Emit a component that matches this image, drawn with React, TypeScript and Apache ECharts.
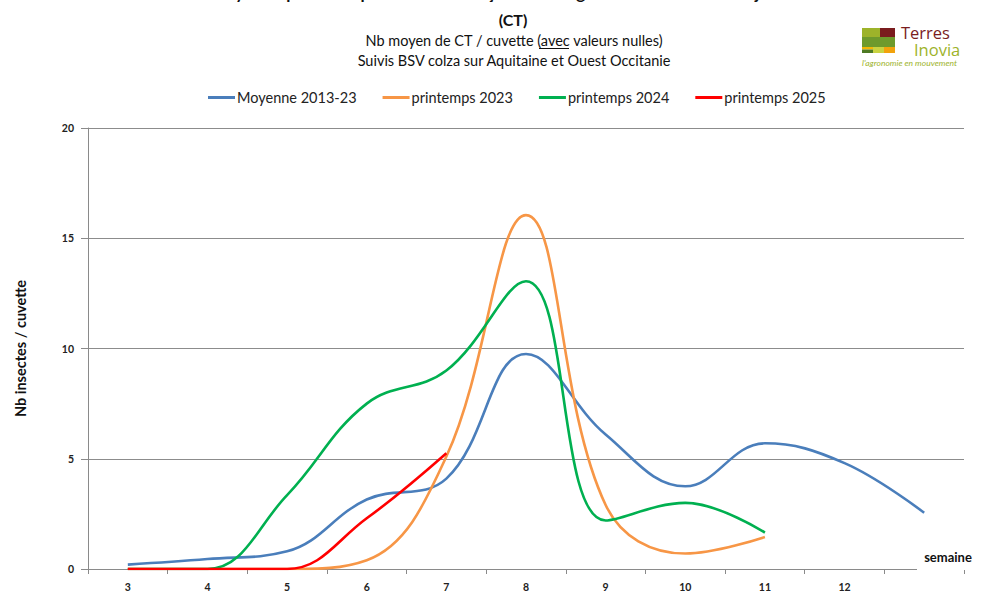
import React, { useEffect, useRef } from "react";
import * as echarts from "echarts";

const weeks = ["3", "4", "5", "6", "7", "8", "9", "10", "11", "12", "13"];
const weekLabels = ["3", "4", "5", "6", "7", "8", "9", "10", "11", "12", ""];
const moyenne = [0.2, 0.45, 0.8, 3.15, 4.1, 9.75, 6.1, 3.75, 5.7, 4.8, 2.55];
const p2023 = [0, 0, 0, 0.4, 5.1, 16.05, 2.9, 0.7, 1.45, null, null];
const p2024 = [0, 0, 3.35, 7.5, 9.0, 13.05, 2.2, 3.0, 1.65, null, null];
const p2025 = [0, 0, 0, 2.3, 5.25, null, null, null, null, null, null];
const yTicks = [0, 5, 10, 15, 20];

const seriesNames = ["Moyenne 2013-23", "printemps 2023", "printemps 2024", "printemps 2025"];
const seriesColors = ["#4A7EBB", "#F79646", "#00B050", "#FF0000"];

const FONT = "Lato, 'Open Sans', sans-serif";

export default function App() {
  const ref = useRef<HTMLDivElement>(null);
  useEffect(() => {
    if (!ref.current) return;
    const chart = echarts.init(ref.current, null, { renderer: "svg" });
    const data = [moyenne, p2023, p2024, p2025];
    chart.setOption({
      animation: false,
      backgroundColor: "#ffffff",
      textStyle: { fontFamily: FONT },
      legend: {
        left: 203,
        top: 85,
        itemWidth: 27,
        itemHeight: 3,
        itemGap: 26,
        icon: "rect",
        textStyle: { fontFamily: FONT, fontSize: 14.5, color: "#222", padding: [0, 0, 0, -3] },
        data: seriesNames,
      },
      grid: { left: 88, right: 20, top: 128, bottom: 23, containLabel: false },
      xAxis: {
        type: "category",
        data: weeks,
        boundaryGap: true,
        axisLine: { show: true, lineStyle: { color: "#8a8a8a", width: 1 } },
        axisTick: { show: true, interval: 0, length: 5, lineStyle: { color: "#8a8a8a" } },
        axisLabel: {
          interval: 0,
          margin: 12,
          fontFamily: FONT,
          fontWeight: "bold",
          fontSize: 10.5,
          color: "#222",
          formatter: (v: string, i: number) => weekLabels[i],
        },
        splitLine: { show: false },
      },
      yAxis: {
        type: "value",
        min: yTicks[0],
        max: yTicks[yTicks.length - 1],
        interval: 5,
        name: "Nb insectes / cuvette",
        nameLocation: "middle",
        nameGap: 60,
        nameTextStyle: { fontFamily: FONT, fontWeight: "bold", fontSize: 14.5, color: "#111" },
        axisLine: { show: true, lineStyle: { color: "#8a8a8a", width: 1 } },
        axisTick: { show: true, length: 7, lineStyle: { color: "#8a8a8a" } },
        axisLabel: { fontFamily: FONT, fontWeight: "bold", fontSize: 10.5, color: "#222", margin: 14 },
        splitLine: { show: true, lineStyle: { color: "#8c8c8c", width: 1 } },
      },
      series: data.map((d, i) => ({
        name: seriesNames[i],
        type: "line",
        data: d,
        smooth: 0.4,
        showSymbol: false,
        symbol: "none",
        connectNulls: false,
        color: seriesColors[i],
        lineStyle: { color: seriesColors[i], width: 2.6 },
        z: 2 + i,
      })),
      graphic: [
        {
          type: "text",
          x: 513,
          y: 1,
          style: {
            text: "Dynamique des captures de charançons de la tige du colza en cuvettes jaunes",
            fontFamily: FONT,
            fontWeight: "bold",
            fontSize: 17,
            fill: "#111",
            align: "center",
            verticalAlign: "bottom",
          },
        },
        {
          type: "text",
          x: 513,
          y: 19,
          style: {
            text: "(CT)",
            fontFamily: FONT,
            fontWeight: "bold",
            fontSize: 16,
            fill: "#111",
            align: "center",
            verticalAlign: "middle",
          },
        },
        {
          type: "text",
          x: 514,
          y: 40,
          style: {
            text: "Nb moyen de CT / cuvette (avec valeurs nulles)",
            fontFamily: FONT,
            fontSize: 14.5,
            fill: "#111",
            align: "center",
            verticalAlign: "middle",
          },
        },
        {
          type: "line",
          shape: { x1: 539, y1: 48.5, x2: 569, y2: 48.5 },
          style: { stroke: "#111", lineWidth: 1 },
        },
        {
          type: "text",
          x: 514,
          y: 60,
          style: {
            text: "Suivis BSV colza sur Aquitaine et Ouest Occitanie",
            fontFamily: FONT,
            fontSize: 14.5,
            fill: "#111",
            align: "center",
            verticalAlign: "middle",
          },
        },
        {
          type: "rect",
          shape: { x: 917, y: 566, width: 50, height: 4 },
          style: { fill: "#ffffff" },
          z: 100,
        },
        {
          type: "text",
          x: 948,
          y: 557,
          z: 101,
          style: {
            text: "semaine",
            fontFamily: FONT,
            fontWeight: "bold",
            fontSize: 13,
            fill: "#111",
            align: "center",
            verticalAlign: "middle",
          },
        },
        // logo
        {
          type: "group",
          x: 0,
          y: 0,
          children: [
            { type: "rect", shape: { x: 862, y: 28, width: 18, height: 9 }, style: { fill: "#9DB32A" } },
            { type: "rect", shape: { x: 880, y: 28, width: 15, height: 9 }, style: { fill: "#7A1C1E" } },
            { type: "rect", shape: { x: 862, y: 37, width: 33, height: 10 }, style: { fill: "#6E9A2C" } },
            { type: "rect", shape: { x: 862, y: 47, width: 11, height: 2.5 }, style: { fill: "#F2B705" } },
            { type: "rect", shape: { x: 862, y: 49.5, width: 11, height: 3.5 }, style: { fill: "#4E7A24" } },
            { type: "rect", shape: { x: 873, y: 47, width: 11, height: 6 }, style: { fill: "#C9D341" } },
            { type: "rect", shape: { x: 884, y: 47, width: 11, height: 6 }, style: { fill: "#F2A20C" } },
            {
              type: "text",
              x: 862,
              y: 23.5,
              style: {
                text: "{t|Terres}\n{i|Inovia}\n{s|l'agronomie en mouvement}",
                align: "left",
                verticalAlign: "top",
                rich: {
                  t: {
                    fontFamily: "'Open Sans', sans-serif",
                    fontSize: 16.5,
                    lineHeight: 17,
                    fill: "#7A1C1E",
                    padding: [0, 0, 0, 39],
                  },
                  i: {
                    fontFamily: "'Open Sans', sans-serif",
                    fontSize: 16.5,
                    lineHeight: 17,
                    fill: "#9DB32A",
                    padding: [0, 0, 0, 52],
                  },
                  s: {
                    fontFamily: FONT,
                    fontStyle: "italic",
                    fontSize: 8.5,
                    lineHeight: 10,
                    fill: "#9DB32A",
                  },
                },
              },
            },
          ],
        },
      ],
    });
    return () => chart.dispose();
  }, []);
  return (
    <div
      ref={ref}
      style={{ position: "fixed", left: 0, top: 0, width: 984, height: 592, background: "#fff" }}
    />
  );
}
